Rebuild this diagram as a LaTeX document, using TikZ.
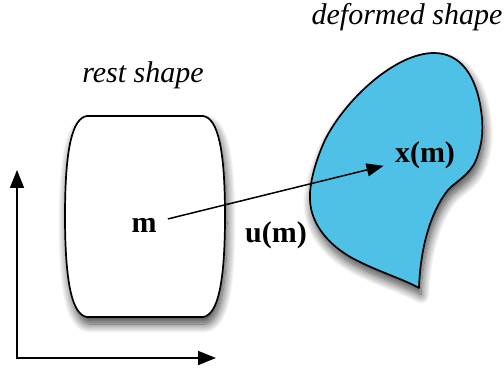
\documentclass[tikz,border=0pt]{standalone}
\usepackage{fontspec}
\setmainfont{Liberation Serif}
\usetikzlibrary{arrows.meta,shadows.blur}
\definecolor{blobblue}{RGB}{80,193,230}
\tikzset{
  outline/.style={draw=black,line width=0.85pt,line join=round},
  softshadow/.style={blur shadow={shadow xshift=1pt,shadow yshift=-3.5pt,shadow blur radius=4.5pt,shadow blur steps=14,shadow opacity=75}},
  caption/.style={font=\fontsize{15}{17}\selectfont\itshape,anchor=base,inner sep=0pt},
  label/.style={font=\fontsize{15}{17}\selectfont\bfseries,anchor=base,inner sep=0pt},
  bigtip/.tip={Triangle[length=9pt,width=7pt,fill=black,line join=miter]},
  smalltip/.tip={Triangle[length=8.5pt,width=6.5pt,fill=black,line join=miter]},
  axis/.style={draw=black,line width=0.85pt,bigtip-bigtip},
  maparrow/.style={draw=black,line width=0.75pt,-smalltip}
}
\begin{document}
\begin{tikzpicture}[x=0.5pt,y=-0.5pt]
\useasboundingbox (0,0) rectangle (504,368);
% rest shape
\path[outline,fill=white,softshadow]
  (87,116) -- (203,116)
  .. controls (218,118) and (225,150) .. (225,216)
  .. controls (225,282) and (218,315) .. (203,317)
  -- (87,317)
  .. controls (72,315) and (65,282) .. (65,216)
  .. controls (65,150) and (72,118) .. cycle;
% deformed shape
\path[outline,fill=blobblue,softshadow]
  (419,288)
  .. controls (420,255) and (428,215) .. (448,190)
  .. controls (455,182) and (470,175) .. (476,160)
  .. controls (482,145) and (484,130) .. (481,110)
  .. controls (476,75) and (460,53) .. (434,53)
  .. controls (395,53) and (345,100) .. (325,140)
  .. controls (315,162) and (309,185) .. (310,200)
  .. controls (311,225) and (330,248) .. (360,262)
  .. controls (380,272) and (405,280) .. cycle;
% texts
\node[caption] (rest) at (143,83) {rest shape};
\node[caption] (def) at (407,25) {deformed shape};
\node[label] (m) at (144,233) {m};
\node[label] (um) at (276,243) {u(m)};
\node[label] (xm) at (425,163) {x(m)};
% mapping arrow
\draw[maparrow] ([shift={(11,-7)}]m.east) -- ([shift={(-11,10)}]xm.west);
% axes
\coordinate (O) at (17,358);
\coordinate (Y) at (17,170);
\coordinate (X) at (216,358);
\draw[axis] (Y) -- (O) -- (X);
\end{tikzpicture}
\end{document}
